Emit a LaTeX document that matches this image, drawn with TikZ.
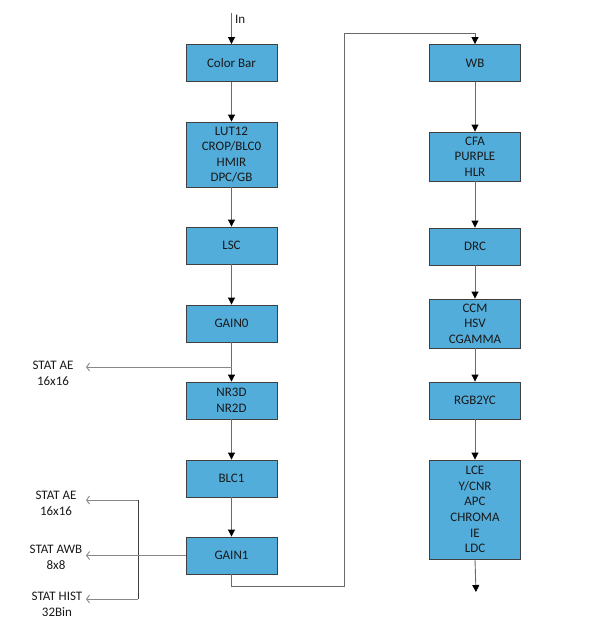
\documentclass[tikz,border=0pt]{standalone}
\usepackage{xcolor}
\usepackage{fontspec}
\setmainfont{Carlito}
\usepackage{tikz}
\usetikzlibrary{arrows.meta,positioning}

\definecolor{blockblue}{HTML}{52ADDB}
\definecolor{blockline}{HTML}{3F3F3F}
\definecolor{wire}{HTML}{6A6A6A}

\begin{document}
\begin{tikzpicture}[
    x=1pt, y=-1pt,
    block/.style={
        rectangle,
        draw=blockline,
        fill=blockblue,
        line width=0.9pt,
        minimum width=91pt,
        minimum height=#1,
        inner sep=1pt,
        align=center,
        text=black!90,
        font=\fontsize{13}{15.6}\selectfont
    },
    block/.default=37pt,
    statlbl/.style={
        align=center,
        inner sep=0pt,
        text=black!90,
        font=\fontsize{13}{16}\selectfont
    },
    flow/.style={draw=wire,line width=0.9pt,-{Triangle[length=7pt,width=7pt,color=black]}},
    tap/.style={draw=wire!80,line width=0.9pt,-{Straight Barb[length=3pt,width=8pt]}}
]
\useasboundingbox (0,0) rectangle (591,625);

% left column
\node[block] (colorbar) at (231.5,63) {Color Bar};
\node[block=65pt] (lut) at (231.5,154.5) {LUT12\\CROP/BLC0\\HMIR\\DPC/GB};
\node[block] (lsc) at (231.5,245.5) {LSC};
\node[block] (gain0) at (231.5,323.5) {GAIN0};
\node[block] (nr) at (231.5,400.5) {NR3D\\NR2D};
\node[block] (blc1) at (231.5,478.5) {BLC1};
\node[block] (gain1) at (231.5,555.5) {GAIN1};

% right column
\node[block] (wb) at (475,63) {WB};
\node[block=49pt] (cfa) at (475,156.5) {CFA\\PURPLE\\HLR};
\node[block] (drc) at (475,246.5) {DRC};
\node[block=49pt] (ccm) at (475,323.5) {CCM\\HSV\\CGAMMA};
\node[block] (rgb) at (475,400.5) {RGB2YC};
\node[block=99pt] (lce) at (475,509.5) {LCE\\Y/CNR\\APC\\CHROMA\\IE\\LDC};

% statistics
\node[statlbl] (ae0) at (53,373) {STAT AE\\16x16};
\node[statlbl] (ae1) at (56,503) {STAT AE\\16x16};
\node[statlbl] (awb) at (56,557) {STAT AWB\\8x8};
\node[statlbl] (hist) at (57,604) {STAT HIST\\32Bin};

\coordinate (in) at (231.5,13);
\coordinate (out) at (476,592);
\coordinate (turn) at (344,33);
\coordinate (tap0) at (231.5,367);
\coordinate (ae0end) at (86,367);
\coordinate (bustop) at (138,500);
\coordinate (busbot) at (138,599);

% main path
\draw[flow] (in) -- (colorbar.north);
\node[anchor=west,inner sep=0pt,text=black!90,font=\fontsize{13}{14}\selectfont] (inlbl) at (235,19) {In};
\draw[flow] (colorbar) -- (lut);
\draw[flow] (lut) -- (lsc);
\draw[flow] (lsc) -- (gain0);
\draw[flow] (gain0) -- (nr);
\draw[flow] (nr) -- (blc1);
\draw[flow] (blc1) -- (gain1);
\draw[flow] (gain1.south) -- ++(0,12) -| (turn) -| (wb.north);
\draw[flow] (wb) -- (cfa);
\draw[flow] (cfa) -- (drc);
\draw[flow] (drc) -- (ccm);
\draw[flow] (ccm) -- (rgb);
\draw[flow] (rgb) -- (lce);
\draw[flow] (lce.south) -- (out);

% stat taps
\draw[tap] (tap0) -- (ae0end);
\draw[draw=blockline,line width=0.9pt] (bustop) -- (busbot);
\draw[tap] (bustop) -- (bustop -| ae0end);
\draw[tap] (gain1.west) -- (gain1.west -| ae0end);
\draw[tap] (busbot) -- (busbot -| ae0end);
\end{tikzpicture}
\end{document}
